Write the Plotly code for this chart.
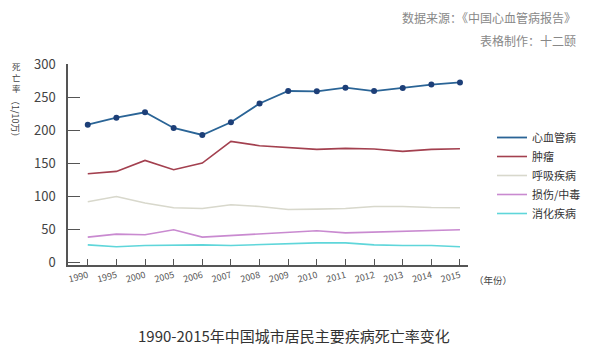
import plotly.graph_objects as go

years = ["1990", "1995", "2000", "2005", "2006", "2007", "2008", "2009",
         "2010", "2011", "2012", "2013", "2014", "2015"]
cardio = [209, 219.6, 227.7, 204, 193.3, 212.5, 241, 260, 259.6, 265, 260, 264.7, 269.8, 273]
tumor = [134.5, 138, 154.7, 140.6, 150.7, 183.6, 177, 174.5, 171.5, 173, 172, 168.4, 171.5, 172.5]
resp = [92, 100, 90, 82.8, 81.8, 87.4, 84.8, 80.3, 80.8, 81.8, 84.8, 84.8, 83.3, 82.8]
injury = [38.3, 42.8, 41.8, 49.4, 38.3, 40.7, 43.3, 45.9, 47.9, 44.8, 45.9, 47.9, 48.4, 49.4]
digest = [26.6, 23.6, 25.6, 26.6, 26.6, 25.6, 27.1, 27.6, 29.6, 29.6, 26.6, 25.6, 25.6, 23.6]

names = ["心血管病", "肿瘤", "呼吸疾病", "损伤/中毒", "消化疾病"]
FONT = "Noto Sans CJK SC"

# page body has an 8px default margin; plot area in reference pixels: x 68..468, y 64..265
PL, PR, PT, PB = 68, 468, 64, 265
OFF = 8


def px(x):
    return (x - PL) / (PR - PL)


def py(y):
    return (PB - y) / (PB - PT)


fig = go.Figure()
fig.add_trace(go.Scatter(x=years, y=cardio, name=names[0], mode="lines",
                         line=dict(color="#2a6496", width=1.8)))
fig.add_trace(go.Scatter(x=years, y=cardio, name=names[0], mode="markers",
                         showlegend=False,
                         marker=dict(color="#1d3f78", size=6)))
fig.add_trace(go.Scatter(x=years, y=tumor, name=names[1], mode="lines",
                         line=dict(color="#a3404f", width=1.6)))
fig.add_trace(go.Scatter(x=years, y=resp, name=names[2], mode="lines",
                         line=dict(color="#d8d8cc", width=1.6)))
fig.add_trace(go.Scatter(x=years, y=injury, name=names[3], mode="lines",
                         line=dict(color="#c98ad0", width=1.6)))
fig.add_trace(go.Scatter(x=years, y=digest, name=names[4], mode="lines",
                         line=dict(color="#5fd6da", width=1.6)))

annotations = [
    dict(text="数据来源：《中国心血管病报告》", x=px(578), y=py(17), xanchor="right",
         yanchor="middle", font=dict(size=12, color="#888")),
    dict(text="表格制作：十二颐", x=px(578), y=py(40), xanchor="right",
         yanchor="middle", font=dict(size=12, color="#888")),
    dict(text="1990-2015年中国城市居民主要疾病死亡率变化", x=px(294), y=py(335),
         xanchor="center", yanchor="middle", font=dict(size=15, color="#333")),
    dict(text="（年份）", x=px(472), y=py(280), xanchor="left", yanchor="middle",
         font=dict(size=9.5, color="#444")),
    dict(text="死<br>亡<br>率", x=px(16), y=py(59), xanchor="center", yanchor="top",
         borderpad=0, font=dict(size=8.5, color="#444")),
    dict(text="（1/10万）", x=px(16), y=py(119), xanchor="center", yanchor="middle",
         textangle=90, borderpad=0, font=dict(size=9, color="#444")),
]
for a in annotations:
    a.update(xref="paper", yref="paper", showarrow=False)

fig.update_layout(
    width=600, height=357,
    margin=dict(l=PL - OFF, r=600 - PR + OFF, t=PT - OFF, b=357 - PB + OFF),
    paper_bgcolor="white", plot_bgcolor="white",
    font=dict(family=FONT, color="#444"),
    showlegend=True,
    legend=dict(x=1.06, y=py(123), xanchor="left", yanchor="top",
                font=dict(size=11, color="#333"), tracegroupgap=0,
                itemwidth=30, bgcolor="rgba(0,0,0,0)"),
    xaxis=dict(type="category", range=[-0.69, 13.28], showgrid=False,
               showline=True, linecolor="#555", linewidth=1.5,
               ticks="inside", ticklen=6, tickcolor="#555",
               tickangle=-15, tickfont=dict(size=9, color="#555"),
               zeroline=False, automargin=False),
    yaxis=dict(range=[-4, 301], showgrid=False, showline=True,
               linecolor="#555", linewidth=1.5,
               ticks="inside", ticklen=12, tickcolor="#555",
               tickvals=[0, 50, 100, 150, 200, 250, 300],
               tickfont=dict(size=13, color="#444"),
               ticklabelstandoff=8, zeroline=False, automargin=False),
    annotations=annotations,
)

fig.write_html("out.html")
